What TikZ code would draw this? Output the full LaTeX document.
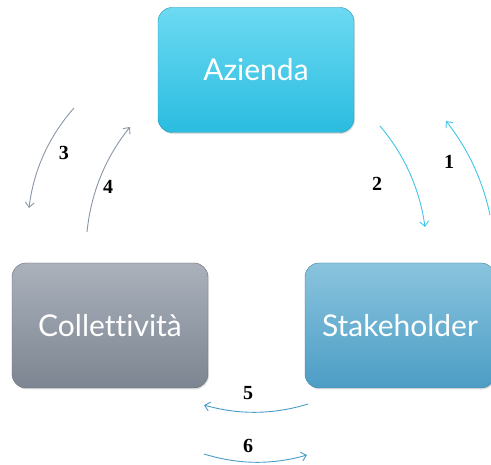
\documentclass[tikz,border=0pt]{standalone}
\usepackage{fontspec}
\setmainfont{Liberation Serif}
\newfontfamily\boxfont[Ligatures=NoCommon]{Lato}
\usetikzlibrary{arrows.meta,shadows}
\definecolor{azTop}{HTML}{6CDAF2}
\definecolor{azBot}{HTML}{2ABCE0}
\definecolor{coTop}{HTML}{AAB1BB}
\definecolor{coBot}{HTML}{7C8591}
\definecolor{stTop}{HTML}{8AC4DE}
\definecolor{stBot}{HTML}{4C9DC5}
\definecolor{arCyan}{HTML}{40C4EA}
\definecolor{arGray}{HTML}{8A96A6}
\definecolor{arBlue}{HTML}{4A9CC8}
\tikzset{
  boxstyle/.style={rounded corners=14pt, minimum height=125pt, inner sep=0pt,
    text=white, font=\boxfont\fontsize{30}{36}\selectfont,
    drop shadow={opacity=0.25, shadow xshift=1pt, shadow yshift=-1.5pt}},
  flow/.style={line width=0.9pt, -{Straight Barb[length=5pt,width=9pt]}},
  numlabel/.style={font=\bfseries\fontsize{20}{23}\selectfont, inner sep=0pt}
}
\begin{document}
\begin{tikzpicture}[x=1pt,y=-1pt]
\useasboundingbox (0,0) rectangle (491,465);
\node[boxstyle, minimum width=196pt, top color=azTop, bottom color=azBot, draw=azBot!80!black, line width=0.4pt] (az) at (256,70) {Azienda};
\node[boxstyle, minimum width=196pt, top color=coTop, bottom color=coBot, draw=coBot!80!black, line width=0.4pt] (co) at (110,325.5) {Collettività};
\node[boxstyle, minimum width=190pt, top color=stTop, bottom color=stBot, draw=stBot!80!black, line width=0.4pt] (st) at (400,325.5) {Stakeholder};

\coordinate (a1s) at (490,215); \coordinate (a1e) at (446,121);
\coordinate (a2s) at (380,126); \coordinate (a2e) at (425,227);
\coordinate (a3s) at (74,108);  \coordinate (a3e) at (29,208);
\coordinate (a4s) at (87,232);  \coordinate (a4e) at (130,127);
\coordinate (a5s) at (308,404); \coordinate (a5e) at (204,405);
\coordinate (a6s) at (204,454); \coordinate (a6e) at (307,455);

\draw[flow, arCyan] (a1s) .. controls (482.7,180.3) and (468,149) .. (a1e);
\draw[flow, arCyan] (a2s) .. controls (404.7,155.3) and (419.7,189) .. (a2e);
\draw[flow, arGray] (a3s) .. controls (48.7,136.7) and (33.7,170) .. (a3e);
\draw[flow, arGray] (a4s) .. controls (91,192.7) and (105.3,157.7) .. (a4e);
\draw[flow, arBlue] (a5s) .. controls (273.3,414.7) and (238.7,415) .. (a5e);
\draw[flow, arBlue] (a6s) .. controls (238.7,464.7) and (272.3,465) .. (a6e);

\node[numlabel] (n1) at (449,162) {1};
\node[numlabel] (n2) at (377,184) {2};
\node[numlabel] (n3) at (64,153) {3};
\node[numlabel] (n4) at (108,187) {4};
\node[numlabel] (n5) at (248,393) {5};
\node[numlabel] (n6) at (248,446) {6};
\end{tikzpicture}
\end{document}
